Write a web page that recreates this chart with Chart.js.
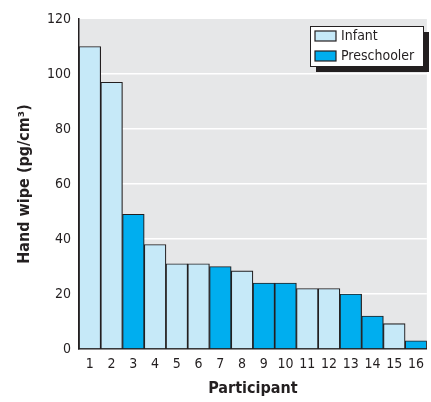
<!DOCTYPE html>
<html>
<head>
<meta charset="utf-8">
<script src="https://cdn.jsdelivr.net/npm/chart.js@4/dist/chart.umd.min.js"></script>
<style>
  html, body { margin: 0; padding: 0; background: #fff; }
  #wrap { width: 431px; height: 402px; }
</style>
</head>
<body>
<div id="wrap"><canvas id="chart" width="431" height="402"></canvas></div>
<script>
const participants = ["1","2","3","4","5","6","7","8","9","10","11","12","13","14","15","16"];
const handWipe = [110, 97, 49, 38, 31, 31, 30, 28.4, 24, 24, 22, 22, 20, 12, 9.2, 3];
const groups = ["Infant","Infant","Preschooler","Infant","Infant","Infant","Preschooler","Infant",
  "Preschooler","Preschooler","Infant","Infant","Preschooler","Preschooler","Infant","Preschooler"];
const groupNames = ["Infant", "Preschooler"];
const groupColors = ["#c6e9f8", "#00aeef"];
const yTicks = [0, 20, 40, 60, 80, 100, 120];

const FONT = "'DejaVu Sans Condensed', 'Liberation Sans Narrow', sans-serif";
const ink = "#231f20";

// one dataset per group, nulls where the bar belongs to the other group
const datasets = groupNames.map((name, i) => ({
  label: name,
  data: handWipe.map((v, k) => groups[k] === name ? v : null),
  backgroundColor: groupColors[i],
  borderColor: ink,
  borderWidth: 1.2,
  categoryPercentage: 1,
  barPercentage: 1,
  grouped: false
}));

const plotBg = {
  id: "plotBg",
  beforeDraw(chart) {
    const { ctx, chartArea: a } = chart;
    ctx.save();
    ctx.fillStyle = "#e6e7e8";
    ctx.fillRect(a.left, a.top, a.right - a.left, a.bottom - a.top);
    ctx.restore();
  }
};

const boxLegend = {
  id: "boxLegend",
  afterDraw(chart) {
    const ctx = chart.ctx;
    const x = 310, y = 26, w = 113, h = 40;
    ctx.save();
    ctx.fillStyle = ink;
    ctx.fillRect(x + 6, y + 6, w, h);
    ctx.fillStyle = "#fff";
    ctx.fillRect(x, y, w, h);
    ctx.strokeStyle = ink;
    ctx.lineWidth = 1;
    ctx.strokeRect(x + 0.5, y + 0.5, w, h);
    ctx.font = "14px " + FONT;
    ctx.textBaseline = "middle";
    chart.data.datasets.forEach((ds, i) => {
      const ry = y + 5 + i * 20;
      ctx.fillStyle = ds.backgroundColor;
      ctx.fillRect(x + 5, ry, 21, 10);
      ctx.strokeStyle = ink;
      ctx.lineWidth = 1.2;
      ctx.strokeRect(x + 5, ry, 21, 10);
      ctx.fillStyle = ink;
      ctx.fillText(ds.label, x + 31, ry + 5.5);
    });
    ctx.restore();
  }
};

new Chart(document.getElementById("chart"), {
  type: "bar",
  data: { labels: participants, datasets: datasets },
  options: {
    responsive: false,
    animation: false,
    layout: { padding: { top: 19, right: 0, left: 0, bottom: 0 } },
    plugins: {
      legend: { display: false },
      tooltip: { enabled: false }
    },
    scales: {
      x: {
        grid: { display: false, drawTicks: false },
        border: { display: true, color: ink, width: 1.5 },
        ticks: { color: ink, font: { family: FONT, size: 14 }, padding: 7, maxRotation: 0, autoSkip: false },
        title: { display: true, text: "Participant", color: ink, font: { family: FONT, size: 16, weight: "bold" }, padding: { top: 12 } },
        afterFit(s) { s.height = 53; }
      },
      y: {
        min: 0,
        max: 120,
        afterBuildTicks(s) { s.ticks = yTicks.map(v => ({ value: v })); },
        grid: { color: c => (c.tick && (c.tick.value === 0 || c.tick.value === 120)) ? "rgba(0,0,0,0)" : "#ffffff", lineWidth: 1.5, drawTicks: false },
        border: { display: true, color: ink, width: 1.5 },
        ticks: { color: ink, font: { family: FONT, size: 14 }, padding: 8 },
        title: { display: true, text: "Hand wipe (pg/cm³)", color: ink, font: { family: FONT, size: 16, weight: "bold" }, padding: { top: 15, bottom: 10 } },
        afterFit(s) { s.width = 79; }
      }
    }
  },
  plugins: [plotBg, boxLegend]
});
</script>
</body>
</html>
